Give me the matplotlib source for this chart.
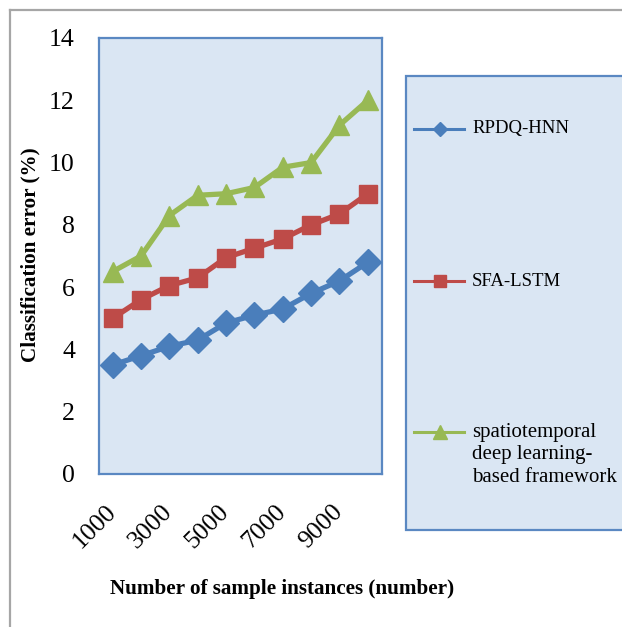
import matplotlib
matplotlib.use("Agg")
import matplotlib.pyplot as plt
from matplotlib.lines import Line2D
from matplotlib.patches import Rectangle

categories = ["1000", "2000", "3000", "4000", "5000", "6000", "7000", "8000", "9000", "10000"]
rpdq_hnn = [3.5, 3.8, 4.1, 4.3, 4.85, 5.1, 5.3, 5.8, 6.2, 6.8]
sfa_lstm = [5.0, 5.6, 6.05, 6.3, 6.95, 7.25, 7.55, 8.0, 8.35, 9.0]
spatio = [6.5, 7.0, 8.3, 8.95, 9.0, 9.2, 9.85, 10.0, 11.2, 12.0]
series_names = ["RPDQ-HNN", "SFA-LSTM", "spatiotemporal\ndeep learning-\nbased framework"]
yticks = [0, 2, 4, 6, 8, 10, 12, 14]

plt.rcParams['font.family'] = ['Liberation Serif', 'DejaVu Serif']

W, H = 622, 627
fig = plt.figure(figsize=(W / 100, H / 100), dpi=100)

def fx(px):
    return px / W

def fy(py):
    return 1 - py / H

bg = "#dae6f3"
frame_blue = "#5a88c2"

# outer gray frame (left and top edges visible)
fig.add_artist(Line2D([fx(10), fx(10)], [fy(10), fy(640)], color="#a6a6a6", lw=1.6, transform=fig.transFigure))
fig.add_artist(Line2D([fx(10), fx(640)], [fy(10), fy(10)], color="#a6a6a6", lw=1.6, transform=fig.transFigure))

left, right, top, bottom = 98.5, 382, 38, 474
ax = fig.add_axes([fx(left), fy(bottom), fx(right - left), (bottom - top) / H])
ax.set_facecolor(bg)
for s in ax.spines.values():
    s.set_color(frame_blue)
    s.set_linewidth(1.6)

x = list(range(len(categories)))
colors = ["#4a7ebb", "#be4b48", "#98b954"]
markers = ["D", "s", "^"]
msizes = [13, 13.5, 14.5]
data = [rpdq_hnn, sfa_lstm, spatio]
for d, c, m, ms in zip(data, colors, markers, msizes):
    ax.plot(x, d, color=c, lw=3.8, marker=m, markersize=ms, markeredgecolor=c, zorder=3)

ax.set_xlim(-0.5, len(categories) - 0.5)
ax.set_ylim(0, 14)
ax.set_yticks(yticks)
ax.set_yticklabels([str(v) for v in yticks], fontsize=18.5)
ax.set_xticks(x[::2])
ax.set_xticklabels(categories[::2], fontsize=18.5, rotation=45, ha="right", va="center",
                   rotation_mode="anchor")
ax.tick_params(axis="both", length=0)
ax.tick_params(axis="y", pad=17)
ax.tick_params(axis="x", pad=25)

fig.text(fx(30), fy(255), "Classification error (%)", rotation=90, fontsize=15.2,
         fontweight="bold", ha="center", va="center")
fig.text(fx(282), fy(589), "Number of sample instances (number)", fontsize=15.2,
         fontweight="bold", ha="center", va="center")

# legend box
fig.add_artist(Rectangle((fx(406), fy(530)), fx(230), (530 - 76) / H, transform=fig.transFigure,
                         facecolor=bg, edgecolor=frame_blue, lw=1.6))
leg_y = [129, 281, 432]
leg_ms = [7, 9, 10]
leg_fs = [13.5, 13.5, 15]
for name, c, m, ms, fs, yy in zip(series_names, colors, markers, leg_ms, leg_fs, leg_y):
    fig.add_artist(Line2D([fx(414), fx(464)], [fy(yy), fy(yy)], color=c, lw=2.2, transform=fig.transFigure))
    fig.add_artist(Line2D([fx(440)], [fy(yy)], color=c, marker=m, markersize=ms,
                          markeredgecolor=c, transform=fig.transFigure))
    multi = "\n" in name
    ty = fy(yy - 9) if multi else fy(yy)
    fig.text(fx(472), ty, name, fontsize=fs, ha="left", va="top" if multi else "center",
             linespacing=1.25)

fig.savefig("out.png", dpi=100)
